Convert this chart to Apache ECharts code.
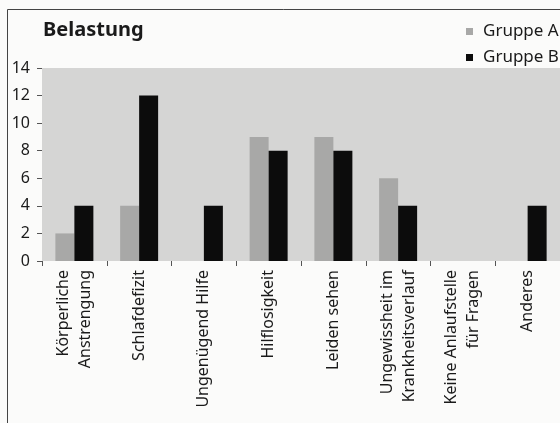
<!DOCTYPE html>
<html>
<head>
<meta charset="utf-8">
<script src="https://cdn.jsdelivr.net/npm/echarts@6/dist/echarts.min.js"></script>
<style>
html,body{margin:0;padding:0;background:#fbfbfa;}
#c{width:560px;height:423px;}
</style>
</head>
<body>
<div id="c"></div>
<script>
var categories = ['Körperliche\nAnstrengung', 'Schlafdefizit', 'Ungenügend Hilfe', 'Hilflosigkeit', 'Leiden sehen', 'Ungewissheit im\nKrankheitsverlauf', 'Keine Anlaufstelle\nfür Fragen', 'Anderes'];
var groupA = [2, 4, 0, 9, 9, 6, 0, 0];
var groupB = [4, 12, 4, 8, 8, 4, 0, 4];
var seriesNames = ['Gruppe A', 'Gruppe B'];
var yTicks = {min: 0, max: 14, step: 2};

var FONT = 'Noto Sans';
var chart = echarts.init(document.getElementById('c'), null, {renderer: 'canvas'});
chart.setOption({
  backgroundColor: '#fbfbfa',
  animation: false,
  textStyle: {fontFamily: FONT},
  title: {
    text: 'Belastung', left: 38, top: 15,
    textStyle: {fontFamily: FONT, fontSize: 20, fontWeight: 'bold', color: '#1a1a1a'}
  },
  legend: {
    orient: 'vertical', left: 461, top: 18, itemGap: 9,
    itemWidth: 7, itemHeight: 7, icon: 'rect',
    textStyle: {fontFamily: FONT, fontSize: 17, lineHeight: 17, color: '#1a1a1a', padding: [0, 0, 0, 5]},
    data: seriesNames
  },
  grid: {
    left: 42, top: 68, width: 519.6, height: 193,
    show: true, backgroundColor: '#d5d5d4', borderWidth: 0
  },
  xAxis: {
    type: 'category', data: categories,
    axisLine: {show: false},
    axisTick: {show: true, length: 5, lineStyle: {color: '#555'}},
    axisLabel: {interval: 0, rotate: 90, fontFamily: FONT, fontSize: 16, lineHeight: 22, margin: 9, color: '#1a1a1a'}
  },
  yAxis: {
    type: 'value', min: yTicks.min, max: yTicks.max, interval: yTicks.step,
    axisLine: {show: false},
    axisTick: {show: true, length: 5, lineStyle: {color: '#555'}},
    splitLine: {show: false},
    axisLabel: {fontFamily: FONT, fontSize: 16, margin: 12, color: '#1a1a1a'}
  },
  series: [
    {name: seriesNames[0], type: 'bar', data: groupA, barWidth: 19, barGap: '0%', itemStyle: {color: '#a8a8a7'}},
    {name: seriesNames[1], type: 'bar', data: groupB, barWidth: 19, barGap: '0%', itemStyle: {color: '#0c0c0c'}}
  ],
  graphic: [
    {type: 'line', shape: {x1: 7.5, y1: 9.5, x2: 560, y2: 9.5}, style: {stroke: '#444', lineWidth: 1}},
    {type: 'line', shape: {x1: 7.5, y1: 9.5, x2: 7.5, y2: 423}, style: {stroke: '#444', lineWidth: 1}}
  ]
});
</script>
</body>
</html>
